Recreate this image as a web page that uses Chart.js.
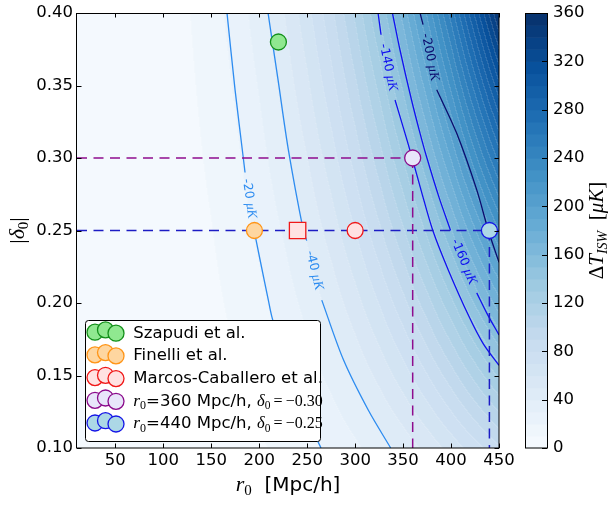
<!DOCTYPE html>
<html>
<head>
<meta charset="utf-8">
<script src="https://cdn.jsdelivr.net/npm/chart.js@4.4.1/dist/chart.umd.min.js"></script>
<style>
  html, body { margin: 0; padding: 0; background: #fff; }
  #wrap { width: 608px; height: 506px; position: relative; }
</style>
</head>
<body>
<div id="wrap"><canvas id="isw" width="608" height="506"></canvas></div>
<script>
// axes
const r0Range = [10, 450];
const deltaRange = [0.10, 0.40];
const r0Ticks = [50, 100, 150, 200, 250, 300, 350, 400, 450];
const deltaTicks = [0.10, 0.15, 0.20, 0.25, 0.30, 0.35, 0.40];
const dTTicks = [0, 40, 80, 120, 160, 200, 240, 280, 320, 360];
const dTLevels = [0, 10, 20, 30, 40, 50, 60, 70, 80, 90, 100, 110, 120, 130, 140, 150, 160, 170, 180,
                  190, 200, 210, 220, 230, 240, 250, 260, 270, 280, 290, 300, 310, 320, 330, 340, 350, 360];

// |dT_ISW| in muK, columns = r0 (Mpc/h), one row per |delta0|
const gridR0 = [0, 25, 50, 75, 100, 125, 150, 175, 200, 225, 250, 275, 300, 325, 350, 375, 400, 425, 450];
const gridDelta = [0.10, 0.15, 0.20, 0.25, 0.30, 0.35, 0.40];
const dT_010 = [0, 0.0, 0.2, 0.5, 1.2, 2.3, 3.9, 6.0, 8.8, 12.4, 16.7, 21.9, 28.1, 35.3, 43.6, 53.0, 63.8, 75.7, 88.0];
const dT_015 = [0, 0.0, 0.3, 0.8, 1.8, 3.5, 5.8, 9.1, 13.3, 18.6, 25.1, 32.9, 42.1, 52.9, 65.3, 79.5, 95.6, 113.6, 132.0];
const dT_020 = [0, 0.0, 0.3, 1.1, 2.5, 4.6, 7.8, 12.1, 17.7, 24.7, 33.4, 43.8, 56.2, 70.5, 87.1, 106.1, 127.5, 151.4, 176.0];
const dT_025 = [0, 0.1, 0.4, 1.4, 3.1, 5.8, 9.7, 15.1, 22.1, 30.9, 41.8, 54.8, 70.2, 88.2, 108.9, 132.6, 159.4, 189.3, 220.0];
const dT_030 = [0, 0.1, 0.5, 1.6, 3.7, 6.9, 11.7, 18.1, 26.5, 37.1, 50.1, 65.7, 84.2, 105.8, 130.7, 159.1, 191.3, 227.2, 264.0];
const dT_035 = [0, 0.1, 0.6, 1.9, 4.3, 8.1, 13.6, 21.2, 30.9, 43.3, 58.5, 76.7, 98.3, 123.4, 152.5, 185.6, 223.2, 265.0, 308.0];
const dT_040 = [0, 0.1, 0.7, 2.2, 4.9, 9.3, 15.6, 24.2, 35.4, 49.5, 66.8, 87.6, 112.3, 141.1, 174.2, 212.1, 255.0, 302.9, 352.0];
const dTGrid = [dT_010, dT_015, dT_020, dT_025, dT_030, dT_035, dT_040];

// labelled contour lines [r0, |delta0|], split where the label sits
const c20 = [
  [[166.4, 0.400], [174.8, 0.347], [183.4, 0.300], [185.2, 0.290]],
  [[193.5, 0.254], [200.8, 0.230], [209.5, 0.202], [213.0, 0.191], [232.1, 0.147], [250.9, 0.119], [264.4, 0.100]]
];
const c40 = [
  [[209.2, 0.400], [219.6, 0.354], [230.3, 0.306], [246.0, 0.250], [249.5, 0.243]],
  [[265.2, 0.202], [287.7, 0.161], [313.8, 0.126], [337.1, 0.100]]
];
const c140 = [
  [[323.9, 0.400], [327.0, 0.385]],
  [[341.6, 0.340], [352.0, 0.317], [359.0, 0.301], [369.5, 0.276], [381.0, 0.250], [397.0, 0.223],
   [418.5, 0.191], [433.5, 0.172], [450.0, 0.157]]
];
const c160 = [
  [[338.9, 0.400], [346.6, 0.375], [358.8, 0.340], [367.7, 0.317], [374.4, 0.301], [387.4, 0.273], [399.5, 0.250]],
  [[426.8, 0.207], [438.1, 0.192], [450.0, 0.178]]
];
const c200 = [
  [[367.7, 0.400], [370.8, 0.392]],
  [[385.1, 0.347], [405.9, 0.317], [426.8, 0.278], [438.9, 0.250], [450.0, 0.228]]
];
const contourLabels = ['-20 ', '-40 ', '-140 ', '-160 ', '-200 '];

// void estimates
const szapudiR0 = [220], szapudiDelta = [0.38];
const finelliR0 = [195], finelliDelta = [0.25];
const marcosR0 = [300], marcosDelta = [0.25];
const marcosBoxR0 = [240], marcosBoxDelta = [0.25];
const caseAR0 = [360], caseADelta = [0.30];
const caseBR0 = [440], caseBDelta = [0.25];

const SANS = '"DejaVu Sans"';
const SERIF = '"Liberation Serif"';
const BLUES = ['#f7fbff', '#deebf7', '#c6dbef', '#9ecae1', '#6baed6', '#4292c6', '#2171b5', '#08519c', '#08306b'];

function hexRgb(h) {
  return [parseInt(h.slice(1, 3), 16), parseInt(h.slice(3, 5), 16), parseInt(h.slice(5, 7), 16)];
}
function blues(t) {
  t = Math.max(0, Math.min(1, t));
  const s = t * (BLUES.length - 1), i = Math.min(BLUES.length - 2, Math.floor(s)), f = s - i;
  const a = hexRgb(BLUES[i]), b = hexRgb(BLUES[i + 1]);
  return a.map((v, k) => Math.round(v + (b[k] - v) * f));
}
const lvMin = dTLevels[0], lvMax = dTLevels[dTLevels.length - 1];
const bandRGB = dTLevels.slice(0, -1).map((v, k) => blues(((v + dTLevels[k + 1]) / 2 - lvMin) / (lvMax - lvMin)));

function dTAt(r, d) {
  let i = 0; while (i < gridR0.length - 2 && r > gridR0[i + 1]) i++;
  let j = 0; while (j < gridDelta.length - 2 && d > gridDelta[j + 1]) j++;
  const tx = (r - gridR0[i]) / (gridR0[i + 1] - gridR0[i]);
  const ty = (d - gridDelta[j]) / (gridDelta[j + 1] - gridDelta[j]);
  const lo = dTGrid[j][i] + (dTGrid[j][i + 1] - dTGrid[j][i]) * tx;
  const hi = dTGrid[j + 1][i] + (dTGrid[j + 1][i + 1] - dTGrid[j + 1][i]) * tx;
  return lo + (hi - lo) * ty;
}
function bandOf(v) {
  let k = 0;
  while (k < dTLevels.length - 2 && v >= dTLevels[k + 1]) k++;
  return k;
}

// mixed font text: runs of [text, font, dy]
function runsWidth(ctx, runs) {
  let w = 0;
  for (const [t, f] of runs) { ctx.font = f; w += ctx.measureText(t).width; }
  return w;
}
function drawRuns(ctx, runs, x, y) {
  for (const [t, f, dy] of runs) {
    ctx.font = f;
    ctx.fillText(t, x, y + (dy || 0));
    x += ctx.measureText(t).width;
  }
}

const pts = arr => arr.map(p => ({ x: p[0], y: p[1] }));
const contourStyles = [
  { lines: c20, color: '#2d8cf0' },
  { lines: c40, color: '#2d8cf0' },
  { lines: c140, color: '#1010f0' },
  { lines: c160, color: '#1010f0' },
  { lines: c200, color: '#0c0c6e' }
];

const datasets = [];
function marker(r0, d, fill, edge, style, radius) {
  datasets.push({
    data: r0.map((v, i) => ({ x: v, y: d[i] })),
    pointStyle: style, pointRadius: radius, pointHoverRadius: radius,
    backgroundColor: fill, borderColor: edge, borderWidth: 1.3, order: 0
  });
}
marker(szapudiR0, szapudiDelta, '#90e890', '#13901a', 'circle', 8);
marker(finelliR0, finelliDelta, '#fed6a0', '#ff9416', 'circle', 8);
marker(marcosR0, marcosDelta, '#ffe2e2', '#f01818', 'circle', 8);
marker(marcosBoxR0, marcosBoxDelta, '#ffe2e2', '#f01818', 'rect', 11.6);
marker(caseAR0, caseADelta, '#e8e6fa', '#8b0a8b', 'circle', 8);
marker(caseBR0, caseBDelta, '#acd8e6', '#1414e6', 'circle', 8);

function dashed(p, color) {
  datasets.push({
    data: pts(p), showLine: true, pointRadius: 0, borderColor: color, borderWidth: 1.5,
    borderDash: [10, 6.5], tension: 0, order: 1
  });
}
dashed([[r0Range[0], caseADelta[0]], [caseAR0[0], caseADelta[0]]], '#8e0c8e');
dashed([[caseAR0[0], caseADelta[0]], [caseAR0[0], deltaRange[0]]], '#8e0c8e');
dashed([[r0Range[0], caseBDelta[0]], [r0Range[1], caseBDelta[0]]], '#1c1cc4');
dashed([[caseBR0[0], caseBDelta[0]], [caseBR0[0], deltaRange[0]]], '#1c1cc4');

for (const c of contourStyles) {
  for (const seg of c.lines) {
    datasets.push({
      data: pts(seg), showLine: true, pointRadius: 0, borderColor: c.color, borderWidth: 1.3,
      tension: 0.3, order: 2
    });
  }
}

const legendRows = [
  { fill: '#90e890', edge: '#13901a', text: 'Szapudi et al.' },
  { fill: '#fed6a0', edge: '#ff9416', text: 'Finelli et al.' },
  { fill: '#ffe2e2', edge: '#f01818', text: 'Marcos-Caballero et al.' },
  { fill: '#e8e6fa', edge: '#8b0a8b', r0: caseAR0[0], delta: caseADelta[0] },
  { fill: '#acd8e6', edge: '#1414e6', r0: caseBR0[0], delta: caseBDelta[0] }
];

const iswPlugin = {
  id: 'iswPlugin',
  beforeDatasetsDraw(chart) {
    const { ctx, chartArea: a, scales: { x, y } } = chart;
    const L = Math.round(a.left), T = Math.round(a.top);
    const w = Math.round(a.right) - L, h = Math.round(a.bottom) - T;
    const bands = new Int16Array(w * h);
    for (let j = 0; j < h; j++) {
      const d = y.getValueForPixel(T + j + 0.5);
      for (let i = 0; i < w; i++) {
        bands[j * w + i] = bandOf(dTAt(x.getValueForPixel(L + i + 0.5), d));
      }
    }
    const img = ctx.createImageData(w, h);
    for (let j = 0; j < h; j++) {
      for (let i = 0; i < w; i++) {
        const k = bands[j * w + i];
        const c = bandRGB[k];
        // thin light seams between filled levels
        const seam = (i > 0 && bands[j * w + i - 1] !== k) || (j > 0 && bands[(j - 1) * w + i] !== k);
        const m = seam ? 0.12 : 0;
        const o = (j * w + i) * 4;
        img.data[o] = c[0] + (255 - c[0]) * m;
        img.data[o + 1] = c[1] + (255 - c[1]) * m;
        img.data[o + 2] = c[2] + (255 - c[2]) * m;
        img.data[o + 3] = 255;
      }
    }
    ctx.putImageData(img, L, T);
  },
  afterDatasetsDraw(chart) {
    const { ctx, chartArea: a, scales: { x, y, cb } } = chart;
    ctx.save();

    // contour labels in the gaps
    ctx.textBaseline = 'middle';
    contourStyles.forEach((c, n) => {
      const p = c.lines[0][c.lines[0].length - 1], q = c.lines[1][0];
      const x1 = x.getPixelForValue(p[0]), y1 = y.getPixelForValue(p[1]);
      const x2 = x.getPixelForValue(q[0]), y2 = y.getPixelForValue(q[1]);
      const runs = [[contourLabels[n], '12.5px ' + SANS], ['\u03bcK', 'italic 13.5px ' + SERIF]];
      const tw = runsWidth(ctx, runs);
      ctx.save();
      ctx.translate((x1 + x2) / 2, (y1 + y2) / 2);
      ctx.rotate(Math.atan2(y2 - y1, x2 - x1));
      ctx.fillStyle = c.color;
      drawRuns(ctx, runs, -tw / 2, 0);
      ctx.restore();
    });

    // legend
    const bx = 85.5, by = 320.5, bw = 235, bh = 121;
    ctx.beginPath();
    ctx.roundRect(bx, by, bw, bh, 3);
    ctx.fillStyle = '#fff';
    ctx.fill();
    ctx.strokeStyle = '#000';
    ctx.lineWidth = 1;
    ctx.stroke();
    const hx = [95, 105.5, 116], hdy = [0.6, -1.7, 1.6];
    ctx.textBaseline = 'alphabetic';
    legendRows.forEach((row, k) => {
      const cy = 331.6 + k * 22.7;
      for (let m = 0; m < 3; m++) {
        ctx.beginPath();
        ctx.arc(hx[m], cy + hdy[m], 8, 0, Math.PI * 2);
        ctx.fillStyle = row.fill;
        ctx.fill();
        ctx.strokeStyle = row.edge;
        ctx.lineWidth = 1.3;
        ctx.stroke();
      }
      ctx.fillStyle = '#000';
      if (row.text) {
        drawRuns(ctx, [[row.text, '16.5px ' + SANS]], 133.3, cy + 6);
      } else {
        drawRuns(ctx, [
          ['r', 'italic 17.5px ' + SERIF],
          ['0', '12px ' + SERIF, 3.5],
          ['=' + row.r0 + ' Mpc/h, ', '16.5px ' + SANS],
          ['\u03b4', 'italic 16.5px ' + SERIF],
          ['0', '11.5px ' + SERIF, 3.5],
          ['\u2009=\u2009\u2212' + row.delta.toFixed(2), '16px ' + SERIF]
        ], 133.3, cy + 6);
      }
    });

    // spines and inward ticks
    ctx.strokeStyle = '#000';
    ctx.lineWidth = 1;
    ctx.strokeRect(a.left - 0.5, a.top + 0.5, a.right - a.left + 0.5, a.bottom - a.top - 0.5);
    ctx.beginPath();
    for (const v of r0Ticks) {
      const px = Math.round(x.getPixelForValue(v)) + 0.5;
      ctx.moveTo(px, a.bottom); ctx.lineTo(px, a.bottom - 4.5);
      ctx.moveTo(px, a.top); ctx.lineTo(px, a.top + 4.5);
    }
    for (const v of deltaTicks) {
      const py = Math.round(y.getPixelForValue(v)) + 0.5;
      ctx.moveTo(a.left, py); ctx.lineTo(a.left + 4.5, py);
      ctx.moveTo(a.right, py); ctx.lineTo(a.right - 4.5, py);
    }
    ctx.stroke();

    // colour bar
    const cx0 = 525, cx1 = 547;
    for (let k = 0; k < dTLevels.length - 1; k++) {
      const y0 = cb.getPixelForValue(dTLevels[k + 1]), y1 = cb.getPixelForValue(dTLevels[k]);
      const c = bandRGB[k];
      ctx.fillStyle = `rgb(${c[0]},${c[1]},${c[2]})`;
      ctx.fillRect(cx0, y0, cx1 - cx0, y1 - y0 + 0.6);
    }
    ctx.strokeRect(cx0 + 0.5, a.top + 0.5, cx1 - cx0, a.bottom - a.top - 0.5);
    ctx.beginPath();
    for (const v of dTTicks) {
      const py = Math.round(cb.getPixelForValue(v)) + 0.5;
      ctx.moveTo(cx1, py); ctx.lineTo(cx1 - 5, py);
    }
    ctx.stroke();

    // axis titles
    ctx.fillStyle = '#000';
    ctx.textBaseline = 'alphabetic';
    const xt = [['r', 'italic 22px ' + SERIF], ['0', '15px ' + SERIF, 4], ['  [Mpc/h]', '20px ' + SANS]];
    drawRuns(ctx, xt, (a.left + a.right) / 2 - runsWidth(ctx, xt) / 2, 491);

    const yt = [['|', '22px ' + SERIF], ['\u03b4', 'italic 22px ' + SERIF], ['0', '15px ' + SERIF, 4], ['|', '22px ' + SERIF]];
    ctx.save();
    ctx.translate(24, (a.top + a.bottom) / 2);
    ctx.rotate(-Math.PI / 2);
    drawRuns(ctx, yt, -runsWidth(ctx, yt) / 2, 0);
    ctx.restore();

    const ct = [['\u0394', '21px ' + SERIF], ['T', 'italic 21px ' + SERIF], ['ISW', 'italic 14px ' + SERIF, 4],
                ['  [', '21px ' + SERIF], ['\u03bcK', 'italic 21px ' + SERIF], [']', '21px ' + SERIF]];
    ctx.save();
    ctx.translate(603, (a.top + a.bottom) / 2);
    ctx.rotate(-Math.PI / 2);
    drawRuns(ctx, ct, -runsWidth(ctx, ct) / 2, 0);
    ctx.restore();

    ctx.restore();
  }
};

// fixed box sizes so the plot area keeps its place
function fixY(width) {
  return s => { s.width = width; s.paddingTop = 0; s.paddingBottom = 0; };
}

const tickFont = { family: 'DejaVu Sans', size: 16.5 };
new Chart(document.getElementById('isw'), {
  type: 'scatter',
  data: { datasets },
  options: {
    responsive: false,
    animation: false,
    devicePixelRatio: 1,
    layout: { padding: { top: 13, left: 0, right: 0, bottom: 0 } },
    plugins: { legend: { display: false }, tooltip: { enabled: false } },
    scales: {
      x: {
        type: 'linear', min: r0Range[0], max: r0Range[1],
        grid: { display: false, drawTicks: false }, border: { display: false },
        afterBuildTicks: s => { s.ticks = r0Ticks.map(v => ({ value: v })); },
        afterFit: s => { s.height = 58; s.paddingLeft = 0; s.paddingRight = 0; },
        ticks: { padding: 3, maxRotation: 0, autoSkip: false, color: '#000', font: tickFont, callback: v => String(v) }
      },
      y: {
        type: 'linear', min: deltaRange[0], max: deltaRange[1],
        grid: { display: false, drawTicks: false }, border: { display: false },
        afterBuildTicks: s => { s.ticks = deltaTicks.map(v => ({ value: v })); },
        afterFit: fixY(77),
        ticks: { padding: 4, autoSkip: false, color: '#000', font: tickFont, callback: v => v.toFixed(2) }
      },
      cb: {
        axis: 'y', type: 'linear', position: 'right', min: lvMin, max: lvMax,
        grid: { display: false, drawTicks: false }, border: { display: false },
        afterBuildTicks: s => { s.ticks = dTTicks.map(v => ({ value: v })); },
        afterFit: fixY(109),
        ticks: { padding: 54, autoSkip: false, color: '#000', font: tickFont, callback: v => String(v) }
      }
    }
  },
  plugins: [iswPlugin]
});
</script>
</body>
</html>
